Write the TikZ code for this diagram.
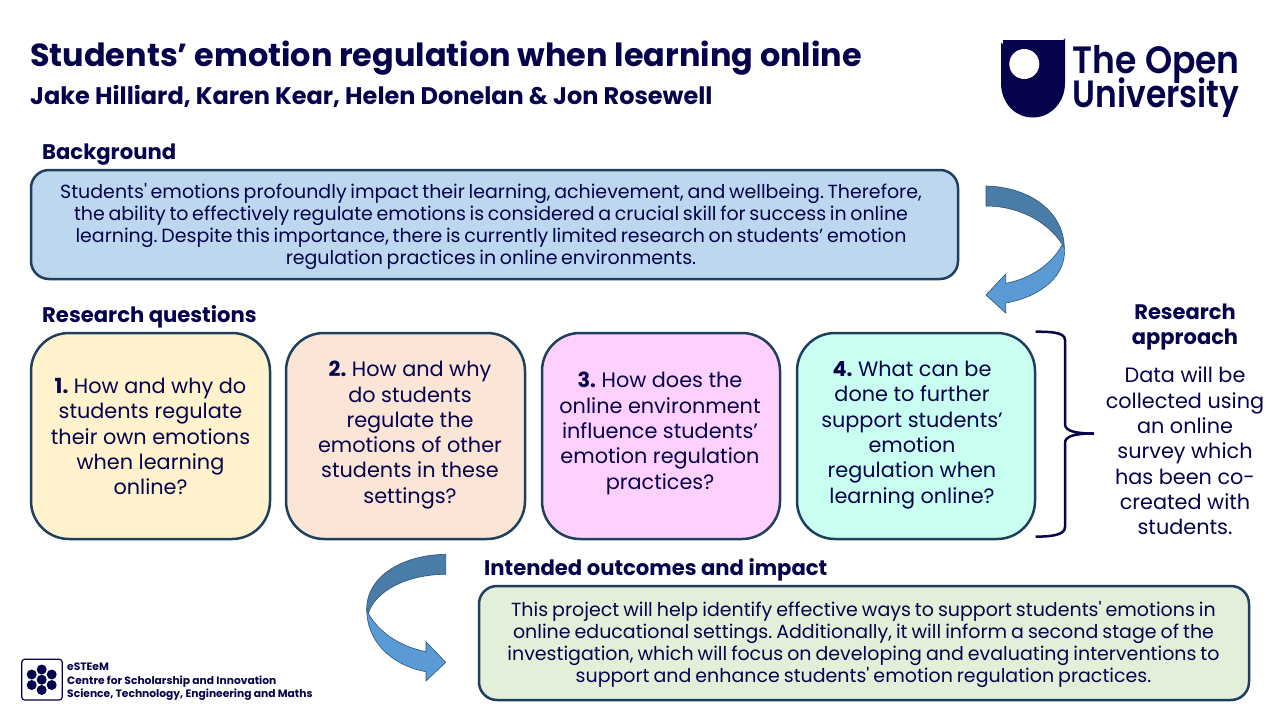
\documentclass[tikz,border=0pt]{standalone}
\usepackage{fontspec}
\setmainfont{Poppins}[Ligatures=TeXOff]
\newfontfamily\logofont{Poppins SemiBold}
\definecolor{navy}{HTML}{06034D}
\definecolor{edge}{HTML}{1F3F5F}
\definecolor{cblue}{HTML}{BDD7EE}
\definecolor{cyel}{HTML}{FFF2CC}
\definecolor{cpeach}{HTML}{FBE5D6}
\definecolor{cpink}{HTML}{FDD0FD}
\definecolor{cmint}{HTML}{C8FFF0}
\definecolor{cgreen}{HTML}{E2F0D9}
\definecolor{arrowdark}{HTML}{4A7CA8}
\definecolor{arrowlight}{HTML}{5B9BD5}
\definecolor{arrowedge}{HTML}{2A5478}
\newcommand{\fs}[2]{\fontsize{#1}{#2}\selectfont}
\newcommand{\bgfont}{\fs{19}{22.3}\frenchspacing\spaceskip=3.65pt\relax}
\newcommand{\outfont}{\fs{19}{22.3}\frenchspacing\spaceskip=4pt\relax}
\tikzset{
  x=1pt,y=-1pt,
  panel/.style={draw=edge,line width=2.5pt,rounded corners=18pt},
  qpanel/.style={draw=edge,line width=2.5pt,rounded corners=38pt},
  txt/.style={text=navy,inner sep=0pt,align=center},
  qtext/.style={txt,font=\fs{20.8}{25.3}\frenchspacing},
  head/.style={text=navy,inner sep=0pt,anchor=base west,font=\fs{21.15}{25}\bfseries},
  band/.style={draw=arrowedge,line width=0.6pt,line join=miter},
  logotext/.style={text=navy,inner sep=0pt,anchor=base west,transform shape,font=\fs{38}{40}\logofont},
  smalltext/.style={text=navy,inner sep=0pt,anchor=base west,font=\fs{10.7}{14.2}\bfseries},
}
\begin{document}
\begin{tikzpicture}
\useasboundingbox (0,0) rectangle (1280,720);
\fill[white] (0,0) rectangle (1280,720);
% Title
\node[head,font=\fs{31.9}{36}\bfseries] (title) at (30,66) {Students’ emotion regulation when learning online};
\node[head,font=\fs{24}{28}\bfseries] (authors) at (30,104) {Jake Hilliard, Karen Kear, Helen Donelan \& Jon Rosewell};
% OU logo
\fill[navy] (1003,40) -- (1063,40) arc[start angle=90,end angle=0,radius=2] -- (1065,83) .. controls (1065,103) and (1050,117.5) .. (1033,117.5) .. controls (1015,117.5) and (1001,103) .. (1001,83) -- (1001,42) arc[start angle=180,end angle=90,radius=2] -- cycle;
\fill[white] (1024.3,64) circle[radius=15];
\node[logotext,xscale=0.91] (ou1) at (1072.5,73.5) {The Open};
\node[logotext,xscale=0.865] (ou2) at (1072.5,107.5) {University};
% Background
\node[head] (bghead) at (42,159) {Background};
\draw[panel,fill=cblue] (31,170) rectangle (958,279);
\node[txt,font=\bgfont] (bgtext) at (491,226.5) {Students' emotions profoundly impact their learning, achievement, and wellbeing. Therefore,\\the ability to effectively regulate emotions is considered a crucial skill for success in online\\learning. Despite this importance, there is currently limited research on students’ emotion\\regulation practices in online environments.};
% Arrow 1
\fill[arrowlight] (1064.3,248) .. controls (1067,276) and (1040,297) .. (1005.7,303) -- (1005.7,313) -- (986,295) -- (1005.7,274) -- (1005.7,283.3) .. controls (1030,279) and (1052,264) .. (1062,245) -- cycle;
\draw[band] (1064.3,248) .. controls (1067,276) and (1040,297) .. (1005.7,303) -- (1005.7,313) -- (986,295) -- (1005.7,274) -- (1005.7,283.3) .. controls (1030,279) and (1052,264) .. (1062,245);
\draw[band,fill=arrowdark] (986,186) .. controls (1030,187) and (1064,212) .. (1064.3,248) .. controls (1052,225) and (1022,206) .. (986,206) -- cycle;
% Research questions
\node[head] (rqhead) at (42,322) {Research questions};
\draw[qpanel,fill=cyel] (31,333) rectangle (270,539);
\draw[qpanel,fill=cpeach] (286,333) rectangle (525,539);
\draw[qpanel,fill=cpink] (542,333) rectangle (780,539);
\draw[qpanel,fill=cmint] (797,333) rectangle (1035,539);
\node[qtext] (q1) at (150.5,436.5) {\textbf{1.} How and why do\\students regulate\\their own emotions\\when learning\\online?};
\node[qtext] (q2) at (410,435) {\textbf{2.} How and why\\do students\\regulate the\\emotions of other\\students in these\\settings?};
\node[qtext] (q3) at (660,433.5) {\textbf{3.} How does the\\online environment\\influence students’\\emotion regulation\\practices?};
\node[qtext] (q4) at (912,435) {\textbf{4.} What can be\\done to further\\support students’\\emotion\\regulation when\\learning online?};
% Brace
\draw[navy,line width=2.5pt] (1035.7,331.7) .. controls (1050,331.7) and (1065,332) .. (1065,340) -- (1065,424) .. controls (1065,431) and (1075,433.5) .. (1094,433.5) .. controls (1075,433.5) and (1065,436) .. (1065,443) -- (1065,527) .. controls (1065,535.5) and (1050,536.5) .. (1035.7,536.7);
% Research approach
\node[txt,font=\fs{21}{25.5}\bfseries] (rahead) at (1185,327) {Research\\approach};
\node[qtext] (ratext) at (1185,451) {Data will be\\collected using\\an online\\survey which\\has been co-\\created with\\students.};
% Arrow 2
\fill[arrowlight] (366.7,608) .. controls (366,640) and (390,665) .. (426,671.7) -- (426,681) -- (445.7,662.3) -- (426,641.7) -- (426,651.7) .. controls (398,646) and (378,631) .. (368.3,613.3) -- cycle;
\draw[band] (366.7,608) .. controls (366,640) and (390,665) .. (426,671.7) -- (426,681) -- (445.7,662.3) -- (426,641.7) -- (426,651.7) .. controls (398,646) and (378,631) .. (368.3,613.3);
\draw[band,fill=arrowdark] (445.7,554.3) .. controls (400,555) and (367,578) .. (366.7,608) -- (368.3,613.3) .. controls (375,592) and (405,574.5) .. (445.7,574.3) -- cycle;
% Outcomes
\node[head] (ohead) at (484,575) {Intended outcomes and impact};
\draw[panel,fill=cgreen] (479,586) rectangle (1249,700);
\node[txt,font=\outfont] (otext) at (863.5,644.5) {This project will help identify effective ways to support students' emotions in\\online educational settings. Additionally, it will inform a second stage of the\\investigation, which will focus on developing and evaluating interventions to\\support and enhance students' emotion regulation practices.};
% eSTEeM logo
\draw[navy,line width=1.2pt,rounded corners=3pt] (21.7,659.3) rectangle (62.3,700);
\foreach \cx/\cy in {41.7/679.7,41.7/669.5,41.7/690,31.7/674.5,51.7/674.5,31.7/685,51.7/685}
  \fill[navy] (\cx,\cy) circle[radius=5];
\node[smalltext] (es1) at (67,670) {eSTEeM};
\node[smalltext] (es2) at (67,684) {Centre for Scholarship and Innovation};
\node[smalltext] (es3) at (67,697.5) {Science, Technology, Engineering and Maths};
\end{tikzpicture}
\end{document}
